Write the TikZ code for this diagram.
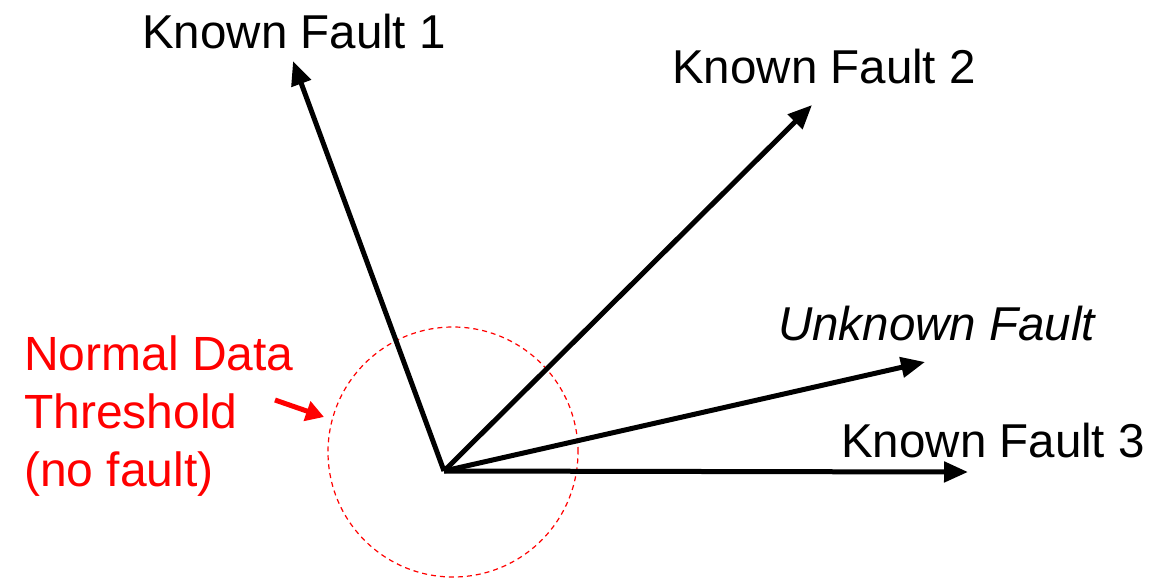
\documentclass[tikz,border=0pt]{standalone}
\usepackage{fontspec}
\setmainfont{Liberation Sans}
\usetikzlibrary{arrows.meta}
\definecolor{lblred}{RGB}{255,0,0}
\begin{document}
\begin{tikzpicture}[x=1pt,y=-1pt,
  vec/.style={line width=5pt,-{Triangle[length=24pt,width=20pt]}},
  lbl/.style={anchor=base west,inner sep=0pt,font=\fontsize{47.5}{56}\selectfont},
  redlbl/.style={anchor=base west,inner sep=0pt,text=lblred,font=\fontsize{48}{58}\selectfont},
  thresh/.style={draw=lblred,line width=1.2pt,dash pattern=on 5pt off 4pt},
  pointer/.style={draw=lblred,line width=5pt,-{Triangle[length=18pt,width=20pt]}}]
\useasboundingbox (0,0) rectangle (1166,581);
\coordinate (o) at (444,471);
\coordinate (t1) at (293,61);
\coordinate (t2) at (812,105);
\coordinate (tu) at (925,362);
\coordinate (t3) at (968,472);
\node[circle,thresh,minimum size=250pt,inner sep=0pt] (c) at (453,452) {};
\draw[vec] (o) -- (t1);
\draw[vec] (o) -- (t2);
\draw[vec] (o) -- (tu);
\draw[vec] (o) -- (t3);
\node[lbl] (l1) at (142,48) {Known Fault 1};
\node[lbl] (l2) at (672,83) {Known Fault 2};
\node[lbl] (lu) at (778,340) {\itshape Unknown Fault};
\node[lbl] (l3) at (841,457) {Known Fault 3};
\node[redlbl] (n1) at (24,370) {Normal Data};
\node[redlbl] (n2) at (24,428) {Threshold};
\node[redlbl] (n3) at (24,486) {(no fault)};
\coordinate (ps) at (275,400);
\coordinate (pe) at (324,417);
\draw[pointer] (ps) -- (pe);
\end{tikzpicture}
\end{document}
